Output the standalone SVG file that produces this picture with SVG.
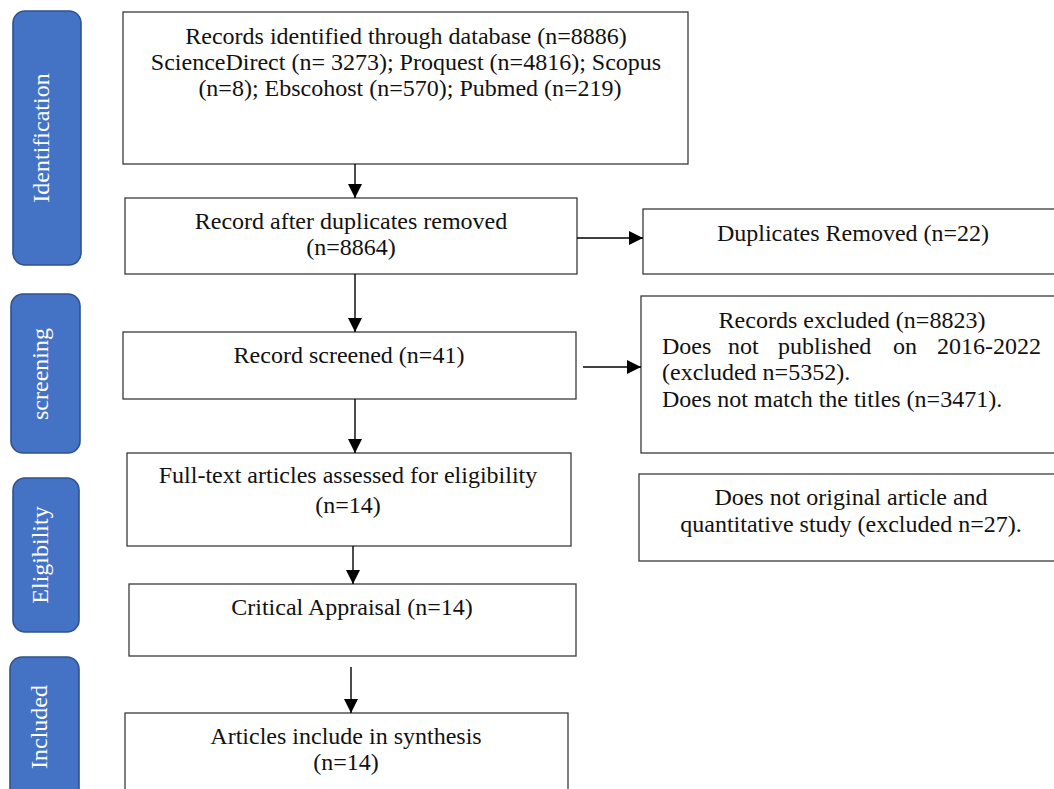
<svg xmlns="http://www.w3.org/2000/svg" width="1054" height="789" viewBox="0 0 1054 789">
<style>
.bar{fill:#4472C4;stroke:#2F528F;stroke-width:1.6}
.bt{font-family:"Liberation Serif",serif;font-size:24px;fill:#ffffff;text-anchor:middle}
.box{fill:#ffffff;stroke:#3a3a3a;stroke-width:1.3}
.t{font-family:"Liberation Serif",serif;font-size:24px;fill:#111111;text-anchor:middle}
.tl{font-family:"Liberation Serif",serif;font-size:24px;fill:#111111}
.c{stroke:#000000;stroke-width:1.4;fill:none;marker-end:url(#ah)}
</style>
<defs>
<marker id="ah" markerUnits="userSpaceOnUse" markerWidth="14" markerHeight="14" refX="14" refY="7" orient="auto">
<path d="M0,0 L14,7 L0,14 Z" fill="#000000"/>
</marker>
</defs>
<rect width="1054" height="789" fill="#ffffff"/>
<g id="stage-identification">
<rect class="bar" x="13" y="11" width="68" height="254" rx="12"/>
<text class="bt" transform="translate(49,138) rotate(-90)">Identification</text>
</g>
<g id="stage-screening">
<rect class="bar" x="11" y="294" width="69" height="159" rx="12"/>
<text class="bt" transform="translate(48,374) rotate(-90)">screening</text>
</g>
<g id="stage-eligibility">
<rect class="bar" x="13" y="478" width="66" height="154" rx="12"/>
<text class="bt" transform="translate(48,555) rotate(-90)">Eligibility</text>
</g>
<g id="stage-included">
<rect class="bar" x="10" y="657" width="69" height="150" rx="12"/>
<text class="bt" transform="translate(47,727) rotate(-90)">Included</text>
</g>
<g id="records-identified">
<rect class="box" x="123" y="12" width="565" height="152"/>
<text class="t" x="406" y="44">Records identified through database (n=8886)</text>
<text class="t" x="406" y="70">ScienceDirect (n= 3273); Proquest (n=4816); Scopus</text>
<text class="t" x="410" y="96">(n=8); Ebscohost (n=570); Pubmed (n=219)</text>
</g>
<g id="after-duplicates">
<rect class="box" x="125" y="198" width="452" height="76"/>
<text class="t" x="351" y="229">Record after duplicates removed</text>
<text class="t" x="351" y="255">(n=8864)</text>
</g>
<g id="duplicates-removed">
<rect class="box" x="643" y="209" width="421" height="65"/>
<text class="t" x="853" y="241">Duplicates Removed (n=22)</text>
</g>
<g id="record-screened">
<rect class="box" x="123" y="332" width="453" height="67"/>
<text class="t" x="349" y="363">Record screened (n=41)</text>
</g>
<g id="records-excluded">
<rect class="box" x="641" y="296" width="423" height="157"/>
<text class="t" x="852" y="328">Records excluded (n=8823)</text>
<text class="tl" y="354"><tspan x="662">Does</tspan><tspan x="728">not</tspan><tspan x="778">published</tspan><tspan x="893">on</tspan><tspan x="937">2016-2022</tspan></text>
<text class="tl" x="662" y="380">(excluded n=5352).</text>
<text class="tl" x="662" y="407">Does not match the titles (n=3471).</text>
</g>
<g id="full-text">
<rect class="box" x="127" y="453" width="444" height="93"/>
<text class="t" x="348" y="483">Full-text articles assessed for eligibility</text>
<text class="t" x="348" y="513">(n=14)</text>
</g>
<g id="not-original">
<rect class="box" x="639" y="474" width="425" height="87"/>
<text class="t" x="851" y="505">Does not original article and</text>
<text class="t" x="851" y="532">quantitative study (excluded n=27).</text>
</g>
<g id="critical-appraisal">
<rect class="box" x="129" y="584" width="447" height="72"/>
<text class="t" x="352" y="615">Critical Appraisal (n=14)</text>
</g>
<g id="articles-included">
<rect class="box" x="125" y="713" width="443" height="90"/>
<text class="t" x="346" y="744">Articles include in synthesis</text>
<text class="t" x="346" y="770">(n=14)</text>
</g>
<g id="connectors">
<line class="c" x1="355" y1="164" x2="355" y2="198"/>
<line class="c" x1="577" y1="238" x2="643" y2="238"/>
<line class="c" x1="355" y1="274" x2="355" y2="332"/>
<line class="c" x1="583" y1="367" x2="641" y2="367"/>
<line class="c" x1="355" y1="399" x2="355" y2="453"/>
<line class="c" x1="353" y1="546" x2="353" y2="584"/>
<line class="c" x1="351" y1="667" x2="351" y2="713"/>
</g>
</svg>
